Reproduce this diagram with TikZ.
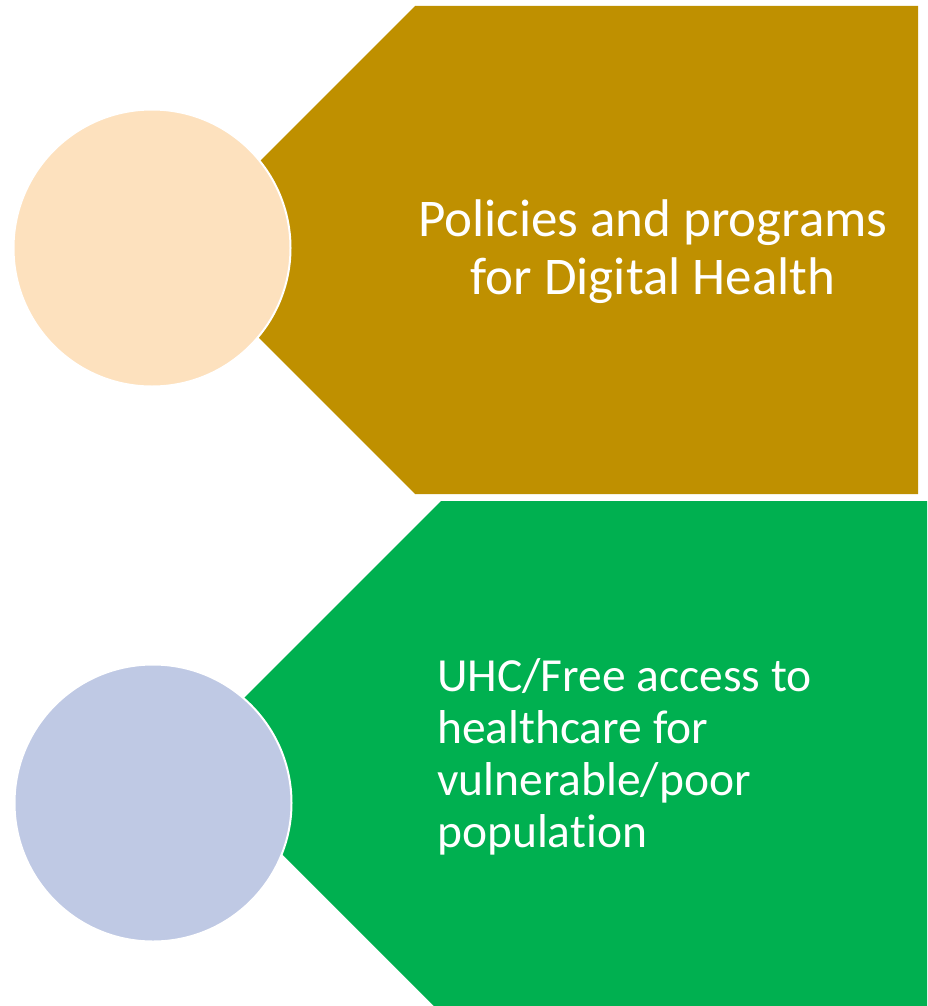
\documentclass[tikz,border=0pt]{standalone}
\usepackage{fontspec}
\setmainfont[Ligatures=NoCommon]{Carlito}
\definecolor{gold}{RGB}{191,144,0}
\definecolor{grn}{RGB}{0,176,80}
\definecolor{peach}{RGB}{253,225,190}
\definecolor{lav}{RGB}{191,201,228}
\begin{document}
\begin{tikzpicture}[x=1pt,y=-1pt,
  disc/.style={circle,draw=white,line width=2pt,inner sep=0pt,minimum size=277pt},
  label/.style={text=white,inner sep=0pt}]
\useasboundingbox (0,0) rectangle (927,1006);
\fill[white] (0,0) rectangle (927,1006);
% top chevron
\fill[gold] (415,6) -- (918,6) -- (918,494) -- (415,494) -- (171,250) -- cycle;
% bottom chevron
\begin{scope}
\clip (0,0) rectangle (927,1006);
\fill[grn] (441,501) -- (940,501) -- (940,1013) -- (441,1013) -- (185,757) -- cycle;
\end{scope}
\node[disc,fill=peach] (c1) at (152,248) {};
\node[disc,fill=lav] (c2) at (153,803) {};
\node[label,align=center,font=\fontsize{53}{58}\selectfont,anchor=base] (t1) at (653,294)
  {Policies and programs\\for Digital Health};
\node[label,align=left,font=\fontsize{47.5}{52}\selectfont,anchor=base west] (t2) at (437,847)
  {UHC/Free access to\\healthcare for\\vulnerable/poor\\population};
\end{tikzpicture}
\end{document}
